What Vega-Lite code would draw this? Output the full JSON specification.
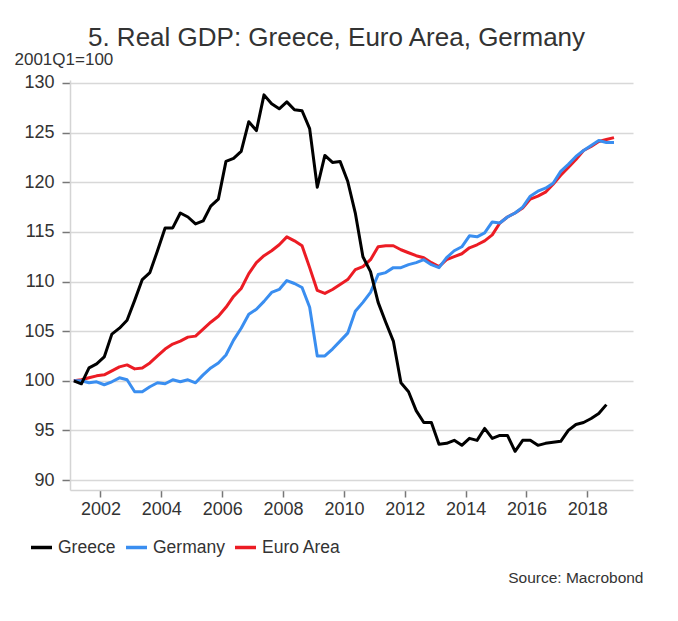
{
  "$schema": "https://vega.github.io/schema/vega-lite/v6.json",
  "width": 563,
  "height": 410,
  "autosize": "none",
  "padding": {"left": 70, "top": 80, "right": 45, "bottom": 131},
  "background": "#ffffff",
  "config": {
    "font": "Liberation Sans",
    "view": {"stroke": null},
    "axis": {"labelFont": "Liberation Sans", "titleFont": "Liberation Sans"}
  },
  "title": {
    "text": "5. Real GDP: Greece, Euro Area, Germany",
    "font": "Liberation Sans",
    "fontSize": 26,
    "fontWeight": "normal",
    "color": "#333333",
    "anchor": "middle",
    "frame": "group",
    "dx": -15,
    "dy": 11,
    "offset": 10
  },
  "data": {
    "values": [
      {"t": 2001.125, "Greece": 100.0, "Germany": 100.0, "Euro Area": 100.0},
      {"t": 2001.375, "Greece": 99.7, "Germany": 100.0, "Euro Area": 100.1},
      {"t": 2001.625, "Greece": 101.3, "Germany": 99.8, "Euro Area": 100.3},
      {"t": 2001.875, "Greece": 101.7, "Germany": 99.9, "Euro Area": 100.5},
      {"t": 2002.125, "Greece": 102.4, "Germany": 99.6, "Euro Area": 100.6},
      {"t": 2002.375, "Greece": 104.7, "Germany": 99.9, "Euro Area": 101.0},
      {"t": 2002.625, "Greece": 105.3, "Germany": 100.3, "Euro Area": 101.4},
      {"t": 2002.875, "Greece": 106.1, "Germany": 100.1, "Euro Area": 101.6},
      {"t": 2003.125, "Greece": 108.1, "Germany": 98.9, "Euro Area": 101.2},
      {"t": 2003.375, "Greece": 110.2, "Germany": 98.9, "Euro Area": 101.3},
      {"t": 2003.625, "Greece": 110.9, "Germany": 99.4, "Euro Area": 101.8},
      {"t": 2003.875, "Greece": 113.1, "Germany": 99.8, "Euro Area": 102.5},
      {"t": 2004.125, "Greece": 115.4, "Germany": 99.7, "Euro Area": 103.2},
      {"t": 2004.375, "Greece": 115.4, "Germany": 100.1, "Euro Area": 103.7},
      {"t": 2004.625, "Greece": 116.9, "Germany": 99.9, "Euro Area": 104.0},
      {"t": 2004.875, "Greece": 116.5, "Germany": 100.1, "Euro Area": 104.4},
      {"t": 2005.125, "Greece": 115.8, "Germany": 99.8, "Euro Area": 104.5},
      {"t": 2005.375, "Greece": 116.1, "Germany": 100.6, "Euro Area": 105.2},
      {"t": 2005.625, "Greece": 117.6, "Germany": 101.3, "Euro Area": 105.9},
      {"t": 2005.875, "Greece": 118.3, "Germany": 101.8, "Euro Area": 106.5},
      {"t": 2006.125, "Greece": 122.1, "Germany": 102.6, "Euro Area": 107.4},
      {"t": 2006.375, "Greece": 122.4, "Germany": 104.1, "Euro Area": 108.5},
      {"t": 2006.625, "Greece": 123.1, "Germany": 105.3, "Euro Area": 109.3},
      {"t": 2006.875, "Greece": 126.1, "Germany": 106.7, "Euro Area": 110.8},
      {"t": 2007.125, "Greece": 125.2, "Germany": 107.2, "Euro Area": 111.9},
      {"t": 2007.375, "Greece": 128.8, "Germany": 108.0, "Euro Area": 112.6},
      {"t": 2007.625, "Greece": 127.9, "Germany": 108.9, "Euro Area": 113.1},
      {"t": 2007.875, "Greece": 127.4, "Germany": 109.2, "Euro Area": 113.7},
      {"t": 2008.125, "Greece": 128.1, "Germany": 110.1, "Euro Area": 114.5},
      {"t": 2008.375, "Greece": 127.3, "Germany": 109.8, "Euro Area": 114.1},
      {"t": 2008.625, "Greece": 127.2, "Germany": 109.4, "Euro Area": 113.6},
      {"t": 2008.875, "Greece": 125.4, "Germany": 107.4, "Euro Area": 111.4},
      {"t": 2009.125, "Greece": 119.5, "Germany": 102.5, "Euro Area": 109.1},
      {"t": 2009.375, "Greece": 122.7, "Germany": 102.5, "Euro Area": 108.8},
      {"t": 2009.625, "Greece": 122.0, "Germany": 103.2, "Euro Area": 109.2},
      {"t": 2009.875, "Greece": 122.1, "Germany": 104.0, "Euro Area": 109.7},
      {"t": 2010.125, "Greece": 120.1, "Germany": 104.8, "Euro Area": 110.2},
      {"t": 2010.375, "Greece": 116.9, "Germany": 107.0, "Euro Area": 111.2},
      {"t": 2010.625, "Greece": 112.5, "Germany": 107.9, "Euro Area": 111.5},
      {"t": 2010.875, "Greece": 111.0, "Germany": 108.9, "Euro Area": 112.2},
      {"t": 2011.125, "Greece": 107.9, "Germany": 110.7, "Euro Area": 113.5},
      {"t": 2011.375, "Greece": 105.9, "Germany": 110.9, "Euro Area": 113.6},
      {"t": 2011.625, "Greece": 104.0, "Germany": 111.4, "Euro Area": 113.6},
      {"t": 2011.875, "Greece": 99.8, "Germany": 111.4, "Euro Area": 113.2},
      {"t": 2012.125, "Greece": 98.9, "Germany": 111.7, "Euro Area": 112.9},
      {"t": 2012.375, "Greece": 97.0, "Germany": 111.9, "Euro Area": 112.6},
      {"t": 2012.625, "Greece": 95.8, "Germany": 112.2, "Euro Area": 112.4},
      {"t": 2012.875, "Greece": 95.8, "Germany": 111.7, "Euro Area": 111.9},
      {"t": 2013.125, "Greece": 93.6, "Germany": 111.4, "Euro Area": 111.5},
      {"t": 2013.375, "Greece": 93.7, "Germany": 112.4, "Euro Area": 112.2},
      {"t": 2013.625, "Greece": 94.0, "Germany": 113.1, "Euro Area": 112.5},
      {"t": 2013.875, "Greece": 93.5, "Germany": 113.5, "Euro Area": 112.8},
      {"t": 2014.125, "Greece": 94.2, "Germany": 114.6, "Euro Area": 113.4},
      {"t": 2014.375, "Greece": 94.0, "Germany": 114.5, "Euro Area": 113.7},
      {"t": 2014.625, "Greece": 95.2, "Germany": 114.9, "Euro Area": 114.1},
      {"t": 2014.875, "Greece": 94.2, "Germany": 116.0, "Euro Area": 114.7},
      {"t": 2015.125, "Greece": 94.5, "Germany": 115.9, "Euro Area": 115.9},
      {"t": 2015.375, "Greece": 94.5, "Germany": 116.5, "Euro Area": 116.5},
      {"t": 2015.625, "Greece": 92.9, "Germany": 116.9, "Euro Area": 116.9},
      {"t": 2015.875, "Greece": 94.0, "Germany": 117.5, "Euro Area": 117.4},
      {"t": 2016.125, "Greece": 94.0, "Germany": 118.6, "Euro Area": 118.3},
      {"t": 2016.375, "Greece": 93.5, "Germany": 119.1, "Euro Area": 118.6},
      {"t": 2016.625, "Greece": 93.7, "Germany": 119.4, "Euro Area": 119.0},
      {"t": 2016.875, "Greece": 93.8, "Germany": 119.9, "Euro Area": 119.8},
      {"t": 2017.125, "Greece": 93.9, "Germany": 121.1, "Euro Area": 120.7},
      {"t": 2017.375, "Greece": 95.0, "Germany": 121.8, "Euro Area": 121.5},
      {"t": 2017.625, "Greece": 95.6, "Germany": 122.6, "Euro Area": 122.3},
      {"t": 2017.875, "Greece": 95.8, "Germany": 123.2, "Euro Area": 123.2},
      {"t": 2018.125, "Greece": 96.2, "Germany": 123.7, "Euro Area": 123.6},
      {"t": 2018.375, "Greece": 96.7, "Germany": 124.2, "Euro Area": 124.1},
      {"t": 2018.625, "Greece": 97.6, "Germany": 124.0, "Euro Area": 124.3},
      {"t": 2018.875, "Germany": 124.0, "Euro Area": 124.5}
    ]
  },
  "transform": [
    {"fold": ["Euro Area", "Germany", "Greece"], "as": ["series", "value"]},
    {"filter": "isValid(datum.value)"}
  ],
  "mark": {"type": "line", "strokeWidth": 3, "strokeJoin": "round"},
  "encoding": {
    "x": {
      "field": "t",
      "type": "quantitative",
      "scale": {"domain": [2001, 2019.5], "nice": false, "zero": false},
      "axis": {
        "values": [2002, 2004, 2006, 2008, 2010, 2012, 2014, 2016, 2018],
        "format": "d",
        "grid": false,
        "domainColor": "#d4d4d4",
        "domainWidth": 1.5,
        "tickColor": "#777777",
        "tickWidth": 1.5,
        "tickSize": 7,
        "labelPadding": 3,
        "labelFontSize": 18,
        "labelColor": "#333333",
        "title": "Source: Macrobond",
        "titleFontSize": 15.5,
        "titleFontWeight": "normal",
        "titleColor": "#333333",
        "titleAlign": "right",
        "titleAnchor": null,
        "titleX": 573,
        "titleY": 87,
        "titleBaseline": "middle"
      }
    },
    "y": {
      "field": "value",
      "type": "quantitative",
      "scale": {"domain": [89, 130.3], "nice": false, "zero": false},
      "axis": {
        "values": [90, 95, 100, 105, 110, 115, 120, 125, 130],
        "grid": true,
        "gridColor": "#d8d8d8",
        "gridWidth": 1.5,
        "domainColor": "#d4d4d4",
        "domainWidth": 1.5,
        "tickColor": "#777777",
        "tickWidth": 1.5,
        "tickSize": 8,
        "labelPadding": 8,
        "labelFontSize": 18,
        "labelColor": "#333333",
        "title": "2001Q1=100",
        "titleFontSize": 17,
        "titleFontWeight": "normal",
        "titleColor": "#333333",
        "titleAngle": 0,
        "titleAlign": "left",
        "titleAnchor": null,
        "titleX": -56,
        "titleY": -16,
        "titleBaseline": "alphabetic"
      }
    },
    "color": {
      "field": "series",
      "type": "nominal",
      "scale": {
        "domain": ["Greece", "Germany", "Euro Area"],
        "range": ["#000000", "#3a8ef0", "#ec1c24"]
      },
      "legend": {
        "title": null,
        "orient": "none",
        "legendX": -41,
        "legendY": 455,
        "direction": "horizontal",
        "symbolType": "stroke",
        "symbolSize": 441,
        "symbolStrokeWidth": 3.5,
        "labelFontSize": 17.5,
        "labelColor": "#333333",
        "labelOffset": 4,
        "columnPadding": 3,
        "padding": 0
      }
    }
  }
}
